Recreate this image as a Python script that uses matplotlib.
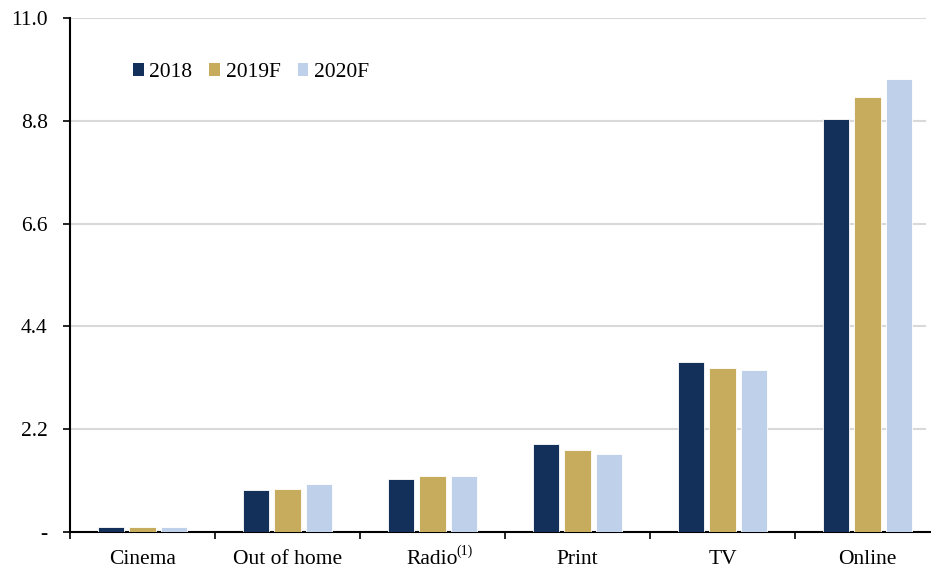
import matplotlib
matplotlib.use("Agg")
import matplotlib.pyplot as plt
import numpy as np
from matplotlib.patches import Patch

plt.rcParams['font.family'] = ['Liberation Serif', 'DejaVu Serif']

# Ad spend by medium
categories = ["Cinema", "Out of home", "Radio", "Print", "TV", "Online"]
series = ["2018", "2019F", "2020F"]
spend_2018 = [0.10, 0.89, 1.14, 1.88, 3.63, 8.84]
spend_2019f = [0.10, 0.93, 1.19, 1.76, 3.50, 9.31]
spend_2020f = [0.10, 1.02, 1.19, 1.66, 3.46, 9.69]
y_ticks = [0, 2.2, 4.4, 6.6, 8.8, 11.0]
y_tick_labels = ["-", "2.2", "4.4", "6.6", "8.8", "11.0"]

colors = ["#12305A", "#C8AC5E", "#BFD0EA"]
fs = 15.5

fig = plt.figure(figsize=(9.31, 5.69), dpi=100)
ax = fig.add_axes([70 / 931, 37 / 569, 870 / 931, 514 / 569])

x = np.arange(len(categories))
width = 0.18
offset = 0.22
for i, (vals, c, name) in enumerate(zip([spend_2018, spend_2019f, spend_2020f], colors, series)):
    ax.bar(x + (i - 1) * offset, vals, width=width, color=c, edgecolor="white",
           linewidth=0.6, label=name, zorder=3)

ax.set_xlim(-0.5, len(categories) - 0.5)
ax.set_ylim(0, 11.0)

ax.set_yticks(y_ticks)
ax.set_yticklabels(y_tick_labels)
# horizontal gridlines stop a little short of the right edge
for yv in y_ticks[1:]:
    ax.axhline(yv, xmin=0, xmax=855 / 870, color="#D9D9D9", linewidth=1.5, zorder=0)

ax.set_xticks(x)
ax.set_xticklabels(categories)
ax.set_xticks(np.arange(-0.5, len(categories), 1.0), minor=True)
ax.tick_params(axis="x", which="major", length=0, pad=13, labelsize=fs)
ax.tick_params(axis="x", which="minor", length=5, width=1.2, direction="out")
ax.tick_params(axis="y", length=5, width=1.2, direction="out", pad=11, labelsize=fs)

# footnote marker on the Radio label
ax.annotate("(1)", xy=(categories.index("Radio"), 0), xycoords=("data", "axes fraction"),
            xytext=(17, -19), textcoords="offset points", fontsize=10,
            ha="left", va="bottom", annotation_clip=False)

for s in ["top", "right"]:
    ax.spines[s].set_visible(False)
for s in ["left", "bottom"]:
    ax.spines[s].set_linewidth(1.5)
    ax.spines[s].set_color("black")

handles = [Patch(facecolor=c, edgecolor="none", label=n) for c, n in zip(colors, series)]
ax.legend(handles=handles, ncol=3, frameon=False, loc="upper left",
          bbox_to_anchor=(0.05, 0.95), fontsize=fs, handlelength=0.5,
          handleheight=0.5, handletextpad=0.25, columnspacing=0.8)

fig.savefig("out.png", dpi=100)
